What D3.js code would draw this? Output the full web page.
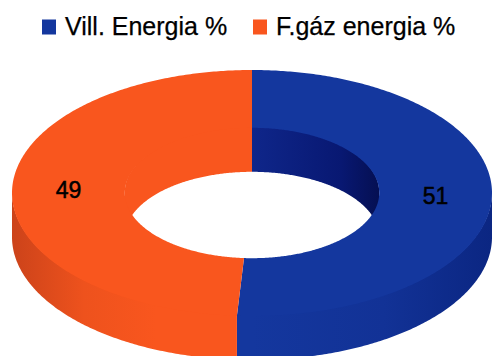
<!DOCTYPE html>
<html>
<head>
<meta charset="utf-8">
<script src="https://cdn.jsdelivr.net/npm/d3@7"></script>
<style>
  html, body { margin: 0; padding: 0; background: #ffffff; }
  svg { display: block; }
  text { font-family: "Liberation Sans", Arial, sans-serif; }
</style>
</head>
<body>
<div id="chart"></div>
<script>
// Energy share: electricity vs. natural gas (percent)
const categories = ["Vill. Energia %", "F.gáz energia %"];
const values = [51, 49];

const palette = {
  top:   ["#14379e", "#f9561e"],
  inner: ["#0a1a72", "#f9561e"]
};

const width = 493, height = 356;

// Ring geometry (top face ellipse and extrusion depth)
const cx = 252, cy = 193;
const RX = 240, RY = 123;
const innerRatio = 0.53;
const depth = 44;

const svg = d3.select("#chart").append("svg")
  .attr("width", width)
  .attr("height", height);

const defs = svg.append("defs");

// Side shading: walls darken only toward the outer silhouette
const gOrange = defs.append("linearGradient")
  .attr("id", "sideOrange").attr("gradientUnits", "userSpaceOnUse")
  .attr("x1", cx - RX).attr("y1", 0).attr("x2", cx).attr("y2", 0);
gOrange.append("stop").attr("offset", 0).attr("stop-color", "#cc431a");
gOrange.append("stop").attr("offset", 0.3).attr("stop-color", "#ee521d");
gOrange.append("stop").attr("offset", 0.6).attr("stop-color", "#f9561e");
gOrange.append("stop").attr("offset", 1).attr("stop-color", "#f9561e");

const gBlue = defs.append("linearGradient")
  .attr("id", "sideBlue").attr("gradientUnits", "userSpaceOnUse")
  .attr("x1", cx).attr("y1", 0).attr("x2", cx + RX).attr("y2", 0);
gBlue.append("stop").attr("offset", 0).attr("stop-color", "#14379e");
gBlue.append("stop").attr("offset", 0.55).attr("stop-color", "#123296");
gBlue.append("stop").attr("offset", 1).attr("stop-color", "#0b2682");

const gInner = defs.append("linearGradient")
  .attr("id", "innerBlue").attr("gradientUnits", "userSpaceOnUse")
  .attr("x1", cx).attr("y1", 0).attr("x2", cx + RX * innerRatio).attr("y2", 0);
gInner.append("stop").attr("offset", 0).attr("stop-color", "#0f268a");
gInner.append("stop").attr("offset", 0.7).attr("stop-color", "#081872");
gInner.append("stop").attr("offset", 1).attr("stop-color", "#050f52");

const sideFill = ["url(#sideBlue)", "url(#sideOrange)"];
const innerFill = ["url(#innerBlue)", palette.inner[1]];

const pie = d3.pie().sort(null).value(d => d)(values);

const rx = d3.scaleLinear().domain([0, 1]).range([0, RX]);
const ry = d3.scaleLinear().domain([0, 1]).range([0, RY]);

function pt(a, rho, dy) {
  return [cx + rx(rho) * Math.sin(a), cy - ry(rho) * Math.cos(a) + dy];
}
function arcPts(a0, a1, rho, dy) {
  const n = Math.max(2, Math.ceil(Math.abs(a1 - a0) / 0.01));
  return d3.range(n + 1).map(i => pt(a0 + (a1 - a0) * i / n, rho, dy));
}
const poly = d3.line().curve(d3.curveLinearClosed);

// Intersect [a0,a1] with a visible angular window [w0,w1]
function clip(a0, a1, w0, w1) {
  const s = Math.max(a0, w0), e = Math.min(a1, w1);
  return s < e ? [s, e] : null;
}

const layer = svg.append("g");

// Inner walls: only the far half of the hole is visible
pie.forEach((p, i) => {
  const windows = [[-Math.PI / 2, Math.PI / 2], [1.5 * Math.PI, 2.5 * Math.PI]];
  windows.forEach(w => {
    const c = clip(p.startAngle, p.endAngle, w[0], w[1]);
    if (!c) return;
    const pts = arcPts(c[0], c[1], innerRatio, -1)
      .concat(arcPts(c[1], c[0], innerRatio, depth));
    layer.append("path").attr("d", poly(pts))
      .attr("fill", innerFill[i]);
  });
});

// Outer walls: near half of the ring
pie.forEach((p, i) => {
  const c = clip(p.startAngle, p.endAngle, Math.PI / 2, 1.5 * Math.PI);
  if (!c) return;
  const pts = arcPts(c[0], c[1], 1, -1).concat(arcPts(c[1], c[0], 1, depth));
  layer.append("path").attr("d", poly(pts)).attr("fill", sideFill[i]);
});

// Top faces
pie.forEach((p, i) => {
  const pts = arcPts(p.startAngle, p.endAngle, 1, 0)
    .concat(arcPts(p.endAngle, p.startAngle, innerRatio, 0));
  layer.append("path").attr("d", poly(pts))
    .attr("fill", palette.top[i]);
});

// Value labels at the middle of each slice's top face
pie.forEach((p, i) => {
  const mid = (p.startAngle + p.endAngle) / 2;
  const [x, y] = pt(mid, (1 + innerRatio) / 2, 0);
  svg.append("text")
    .attr("x", x).attr("y", y)
    .attr("text-anchor", "middle")
    .attr("dominant-baseline", "central")
    .attr("font-size", 23)
    .attr("fill", "#000")
    .attr("stroke", "#000").attr("stroke-width", 0.5)
    .text(values[i]);
});

// Legend
const legendX = [42, 253];
const legend = svg.append("g");
categories.forEach((c, i) => {
  legend.append("rect")
    .attr("x", legendX[i]).attr("y", 19.5)
    .attr("width", 14).attr("height", 15)
    .attr("fill", palette.top[i]);
  legend.append("text")
    .attr("x", legendX[i] + 23).attr("y", 35)
    .attr("font-size", 25)
    .attr("fill", "#000")
    .attr("stroke", "#000").attr("stroke-width", 0.25)
    .text(c);
});
</script>
</body>
</html>
